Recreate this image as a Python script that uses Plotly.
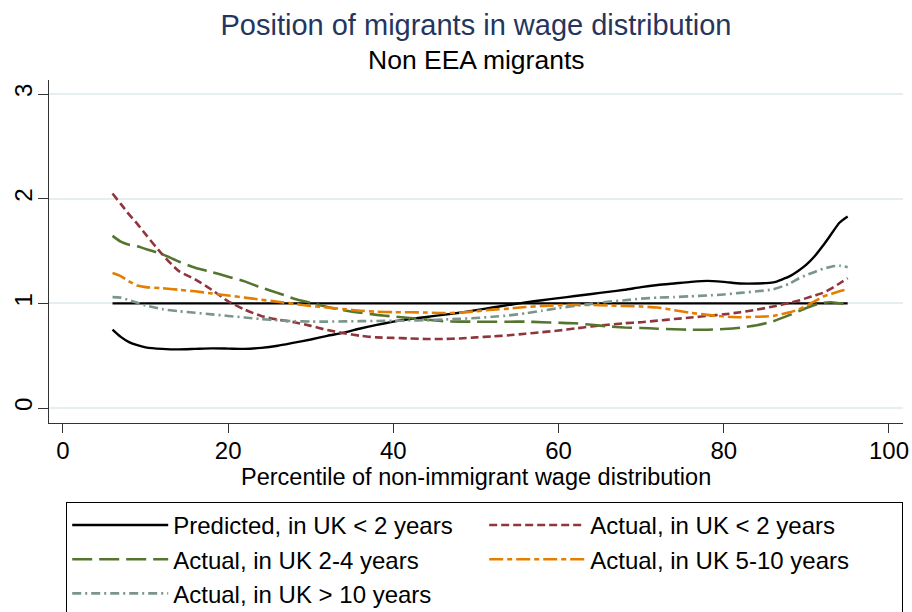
import plotly.graph_objects as go

# Percentile of the non-immigrant wage distribution
percentile = [6, 7, 8, 9, 10, 12, 14, 16, 18, 20, 22, 24, 26, 28, 30, 32, 34, 36, 38, 40,
              42, 44, 46, 48, 50, 52, 54, 56, 58, 60, 62, 64, 66, 68, 70, 72, 74, 76, 78, 80,
              82, 84, 86, 88, 89, 90, 91, 92, 93, 94, 95]

predicted_lt2 = [0.75, 0.68, 0.63, 0.60, 0.58, 0.565, 0.56, 0.565, 0.57, 0.568, 0.565, 0.575,
                 0.595, 0.625, 0.655, 0.69, 0.72, 0.76, 0.795, 0.825, 0.85, 0.87, 0.89, 0.91,
                 0.935, 0.96, 0.985, 1.01, 1.03, 1.05, 1.07, 1.09, 1.11, 1.13, 1.155, 1.175,
                 1.19, 1.205, 1.215, 1.205, 1.19, 1.19, 1.20, 1.26, 1.31, 1.37, 1.45, 1.55,
                 1.66, 1.77, 1.83]

actual_lt2 = [2.05, 1.95, 1.85, 1.76, 1.66, 1.47, 1.31, 1.23, 1.13, 1.02, 0.94, 0.88,
              0.845, 0.82, 0.785, 0.745, 0.715, 0.69, 0.675, 0.67, 0.665, 0.66, 0.66, 0.665,
              0.675, 0.685, 0.695, 0.71, 0.725, 0.74, 0.76, 0.78, 0.795, 0.81, 0.82, 0.835,
              0.85, 0.865, 0.88, 0.895, 0.915, 0.94, 0.97, 1.005, 1.025, 1.05, 1.075, 1.10,
              1.14, 1.19, 1.24]

actual_2_4 = [1.645, 1.59, 1.56, 1.545, 1.52, 1.47, 1.40, 1.34, 1.30, 1.255, 1.21, 1.15,
              1.10, 1.045, 1.005, 0.965, 0.935, 0.91, 0.89, 0.875, 0.86, 0.845, 0.83, 0.826,
              0.825, 0.825, 0.825, 0.825, 0.82, 0.815, 0.81, 0.795, 0.78, 0.77, 0.765, 0.758,
              0.752, 0.748, 0.748, 0.755, 0.768, 0.79, 0.83, 0.89, 0.925, 0.955, 0.985, 1.005,
              1.01, 1.0, 0.99]

actual_5_10 = [1.29, 1.26, 1.21, 1.17, 1.155, 1.145, 1.13, 1.115, 1.095, 1.075, 1.055, 1.035,
               1.015, 0.995, 0.975, 0.96, 0.945, 0.93, 0.92, 0.916, 0.915, 0.912, 0.908, 0.91,
               0.925, 0.94, 0.95, 0.965, 0.975, 0.982, 0.986, 0.985, 0.98, 0.975, 0.97, 0.96,
               0.935, 0.91, 0.89, 0.875, 0.868, 0.872, 0.88, 0.915, 0.94, 0.975, 1.02, 1.065,
               1.09, 1.115, 1.135]

actual_gt10 = [1.06, 1.055, 1.03, 1.005, 0.98, 0.945, 0.925, 0.91, 0.895, 0.88, 0.865, 0.85,
               0.838, 0.83, 0.826, 0.826, 0.828, 0.83, 0.832, 0.833, 0.836, 0.84, 0.846, 0.852,
               0.86, 0.872, 0.885, 0.905, 0.93, 0.955, 0.975, 0.995, 1.015, 1.03, 1.045, 1.055,
               1.06, 1.068, 1.075, 1.085, 1.1, 1.115, 1.135, 1.19, 1.235, 1.27, 1.30, 1.33,
               1.35, 1.36, 1.345]

# Parity level: migrants positioned like non-immigrants
parity_level = 1

x_ticks = [0, 20, 40, 60, 80, 100]
y_ticks = [0, 1, 2, 3]

FONT = "Liberation Sans, Arial, sans-serif"

series = [
    ("Predicted, in UK < 2 years", predicted_lt2, "#000000", "solid", 2.4),
    ("Actual, in UK < 2 years", actual_lt2, "#90353b", "8px,4px", 2.6),
    ("Actual, in UK 2-4 years", actual_2_4, "#55752f", "20px,7px", 2.6),
    ("Actual, in UK 5-10 years", actual_5_10, "#e37e00", "14px,4px,5px,4px", 2.6),
    ("Actual, in UK > 10 years", actual_gt10, "#7a968c", "9px,4px,2px,4px", 2.6),
]

fig = go.Figure()

fig.add_trace(go.Scatter(
    x=[percentile[0], percentile[-1]], y=[parity_level, parity_level],
    mode="lines", line=dict(color="#000000", width=2.4),
    showlegend=False, hoverinfo="skip",
))

for name, values, color, dash, width in series:
    fig.add_trace(go.Scatter(
        x=percentile, y=values, name=name, mode="lines",
        line=dict(color=color, dash=dash, width=width, shape="spline", smoothing=0.6),
    ))

fig.update_layout(
    width=912, height=612,
    margin=dict(l=49, r=9, t=80, b=189, autoexpand=False),
    paper_bgcolor="white", plot_bgcolor="white",
    font=dict(family=FONT, color="#000000", size=24),
    title=dict(
        text="Position of migrants in wage distribution",
        x=0.5, xref="paper", xanchor="center",
        y=1 - 25 / 612, yref="container", yanchor="middle",
        font=dict(family=FONT, size=29, color="#24365e"),
    ),
    annotations=[
        dict(text="Non EEA migrants", xref="paper", yref="paper",
             x=0.5, y=1 + 20 / 343.3, xanchor="center", yanchor="middle",
             showarrow=False, font=dict(family=FONT, size=26.5, color="#000000")),
        dict(text="Percentile of non-immigrant wage distribution", xref="paper", yref="paper",
             x=0.5, y=-(477.5 - 423.3) / 343.3, xanchor="center", yanchor="middle",
             showarrow=False, font=dict(family=FONT, size=23.5, color="#000000")),
    ],
    xaxis=dict(
        range=[-1.69, 101.7], tickvals=x_ticks, ticks="outside", ticklen=9,
        tickwidth=1.3, tickcolor="#333333", showgrid=False, zeroline=False,
        showline=True, linecolor="#333333", linewidth=1.3, automargin=False,
        tickfont=dict(size=24), ticklabelstandoff=-3,
    ),
    yaxis=dict(
        range=[-0.143, 3.134], tickvals=y_ticks, ticks="outside", ticklen=10,
        tickwidth=1.3, tickcolor="#333333", tickangle=-90, automargin=False,
        showgrid=True, gridcolor="#e6eef1", gridwidth=2, zeroline=False,
        showline=True, linecolor="#333333", linewidth=1.3,
        tickfont=dict(size=24), ticklabelstandoff=-4,
    ),
    legend=dict(
        orientation="h", xref="paper", x=(66 - 49) / 854,
        yref="container", y=1 - 501.7 / 612,
        xanchor="left", yanchor="top",
        bordercolor="#000000", borderwidth=1.2, bgcolor="white",
        font=dict(size=24), entrywidth=306, itemwidth=96,
        traceorder="normal",
    ),
)

fig.write_html("out.html")
